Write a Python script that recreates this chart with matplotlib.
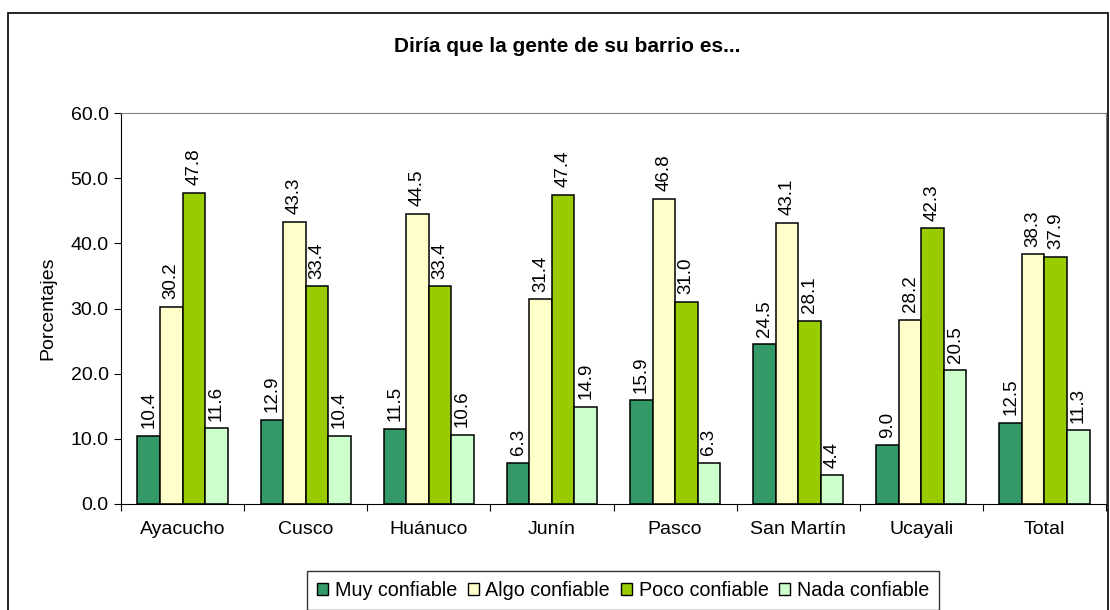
import matplotlib
matplotlib.use("Agg")
import matplotlib.pyplot as plt
import numpy as np
from matplotlib.patches import Rectangle

plt.rcParams['font.family'] = ['Liberation Sans', 'DejaVu Sans']

categories = ["Ayacucho", "Cusco", "Huánuco", "Junín", "Pasco", "San Martín", "Ucayali", "Total"]
series_names = ["Muy confiable", "Algo confiable", "Poco confiable", "Nada confiable"]
muy = [10.4, 12.9, 11.5, 6.3, 15.9, 24.5, 9.0, 12.5]
algo = [30.2, 43.3, 44.5, 31.4, 46.8, 43.1, 28.2, 38.3]
poco = [47.8, 33.4, 33.4, 47.4, 31.0, 28.1, 42.3, 37.9]
nada = [11.6, 10.4, 10.6, 14.9, 6.3, 4.4, 20.5, 11.3]
series = [muy, algo, poco, nada]
colors = ["#339966", "#FFFFCC", "#99CC00", "#CCFFCC"]
yticks = [0, 10, 20, 30, 40, 50, 60]

W, H = 1110, 610
fig = plt.figure(figsize=(W / 100, H / 100), dpi=100)
fig.patch.set_facecolor("white")

# outer frame
fig.add_artist(Rectangle((8 / W, -0.01), (1108 - 8) / W, (H - 13) / H + 0.01,
                         transform=fig.transFigure, fill=False, edgecolor="black", lw=1.2))

ax = fig.add_axes([121 / W, 1 - 504 / H, (1106 - 121) / W, (504 - 113) / H])
x = np.arange(len(categories))
bw = 0.183
for i, (vals, c, name) in enumerate(zip(series, colors, series_names)):
    pos = x + (i - 1.5) * bw
    ax.bar(pos, vals, bw, color=c, edgecolor="black", lw=1.1, label=name)
    for p, v in zip(pos, vals):
        ax.text(p, v + 1.2, f"{v:.1f}", rotation=90, ha="center", va="bottom", fontsize=13.5)

ax.set_xlim(-0.5, len(categories) - 0.5)
ax.set_ylim(0, 60)
ax.set_yticks(yticks)
ax.set_yticklabels([f"{t:.1f}" for t in yticks], fontsize=14)
ax.set_xticks(np.arange(len(categories) + 1) - 0.5, minor=False)
ax.set_xticklabels([])
ax.set_xticks(x, minor=True)
ax.set_xticklabels(categories, minor=True, fontsize=14)
ax.tick_params(axis="x", which="minor", length=0, pad=12)
ax.tick_params(axis="x", which="major", direction="out", length=5)
ax.tick_params(axis="y", direction="out", length=5, pad=4)
for s in ["top", "right"]:
    ax.spines[s].set_color("#808080")
ax.spines["left"].set_color("black")
ax.spines["bottom"].set_color("black")
ax.set_ylabel("Porcentajes", fontsize=14, labelpad=10)

fig.text(567 / W, 1 - 47 / H, "Diría que la gente de su barrio es...", ha="center", va="center",
         fontsize=15, fontweight="bold")

leg = fig.legend(loc="upper left", bbox_to_anchor=(307 / W, 1 - 571 / H), ncol=4, frameon=True,
                 fontsize=14.2, handlelength=0.55, handleheight=0.55, handletextpad=0.35,
                 columnspacing=0.55, borderpad=0.5, borderaxespad=0, fancybox=False,
                 edgecolor="black")
leg.get_frame().set_linewidth(1.0)
for h in leg.legend_handles:
    h.set_linewidth(1.0)

fig.savefig("out.png", dpi=100)
